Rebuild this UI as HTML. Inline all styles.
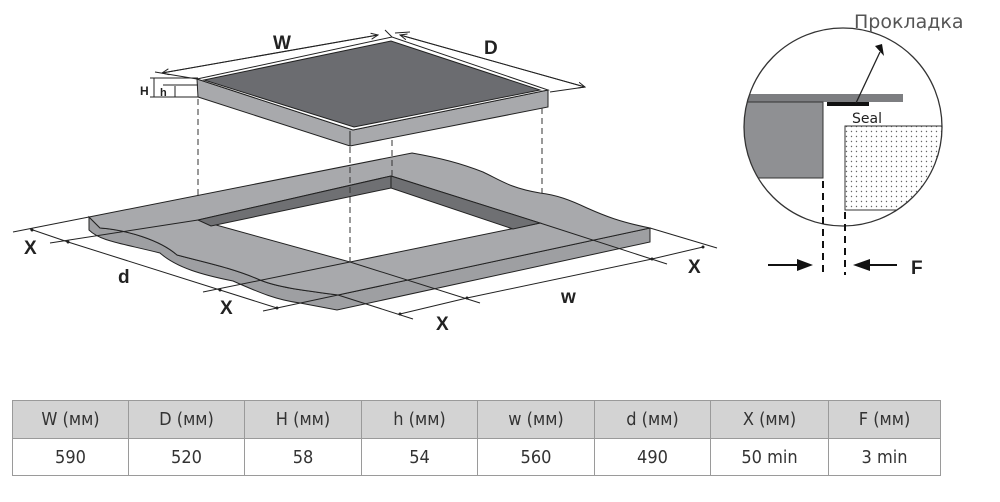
<!DOCTYPE html>
<html><head><meta charset="utf-8"><style>
html,body{margin:0;padding:0;background:#fff;}
body{width:1000px;height:502px;position:relative;overflow:hidden;font-family:"Liberation Sans","DejaVu Sans",sans-serif;}
svg{position:absolute;left:0;top:0;}
table{position:absolute;left:12px;top:400px;border-collapse:collapse;width:929px;}
td{border:1px solid #9a9a9a;text-align:center;font-size:18px;color:#333;height:36px;padding:0;font-family:"DejaVu Sans Condensed","Liberation Sans Narrow","Liberation Sans",sans-serif;}
tr.h td{background:#d3d3d3;height:37px;}
</style></head><body>
<svg width="1000" height="502" viewBox="0 0 1000 502">
<defs>
<pattern id="dots" width="5" height="5" patternUnits="userSpaceOnUse"><circle cx="1.5" cy="1.5" r="0.7" fill="#666"/></pattern>
<marker id="ah" markerWidth="8" markerHeight="8" refX="7" refY="4" orient="auto"><path d="M0,1 L7,4 L0,7" fill="none" stroke="#222" stroke-width="1"/></marker>
<clipPath id="cc"><circle cx="843" cy="127" r="99"/></clipPath>
</defs>
<g stroke="#222" stroke-width="1" fill="none">
<path d="M89,217 L89,230 C100,241 120,243 160,253 C177,268 203,275 233,281 C260,293 277,300 300,303 L337,310 L650,242 L650,228 L338,295 C300,290 277,287 260,280 C233,268 203,262 177,255 C160,240 127,230 100,228 Z" fill="#9e9fa2"/>
<path d="M89,217 L412,153 C440,158 460,163 483,172 C500,180 510,188 540,193 C557,195 570,200 587,208 C605,216 620,222 650,228 L338,295 C300,290 277,287 260,280 C233,268 203,262 177,255 C160,240 127,230 100,228 Z" fill="#a8a9ac"/>
<path d="M391,176 L540,223 L350,262 L198,220 Z" fill="#fff"/>
<path d="M391,176 L540,223 L513,229 L391,188 L211,226 L198,220 Z" fill="#6f7073"/>
<path d="M391,176 L391,188"/>
<path d="M13,232 L89,217"/>
<path d="M50,243 L198,220"/>
<path d="M203,292 L350,262"/>
<path d="M263,311 L338,295"/>
<path d="M350,262 L480,303"/>
<path d="M338,295 L413,319"/>
<path d="M650,228 L717,248"/>
<path d="M540,223 L667,264"/>
<path d="M30,229 L68,242 L220,290 L277,308"/>
<path d="M703,247 L652,259 L467,298 L400,314"/>
<g fill="#222" stroke="none"><circle cx="32" cy="230" r="1.5"/><circle cx="68" cy="242" r="1.5"/><circle cx="220" cy="290" r="1.5"/><circle cx="277" cy="308" r="1.5"/><circle cx="703" cy="247" r="1.5"/><circle cx="652" cy="259" r="1.5"/><circle cx="467" cy="298" r="1.5"/><circle cx="400" cy="314" r="1.5"/></g>
<path d="M197,79 L353,130 L548,90 L548,107 L350,146 L198,97 Z" fill="#a8a9ac"/>
<path d="M350,131 L350,146"/>
<path d="M197,79 L392,37 L548,90 L353,130 Z" fill="#fff"/>
<path d="M204,80 L391,41 L540,90 L354,127 Z" fill="#6b6c70"/>
<path d="M162,73 L378,35" marker-end="url(#ah)"/>
<path d="M378,35 L162,73" marker-end="url(#ah)"/>
<path d="M155,72 L197,79 M385,30 L392,37 M550,92 L585,87 M395,33 L410,32"/>
<path d="M400,35 L585,87" marker-end="url(#ah)"/>
<path d="M585,87 L400,35" marker-end="url(#ah)"/>
<path d="M150,78 L198,78 M150,97 L198,97 M154,78 L154,97 M163,85 L198,85 M175,86 L175,97"/>
<g stroke-dasharray="6,4" stroke="#333">
<path d="M198,99 L198,197"/><path d="M350,147 L350,262"/><path d="M392,140 L392,176"/><path d="M542,108 L542,193"/>
</g>
<g clip-path="url(#cc)">
<path d="M740,94 L903,94 L903,102 L740,102 Z" fill="#7d7e81" stroke="none"/>
<path d="M740,102 L823,102 L823,178 L740,178 Z" fill="#8f9093" stroke="#333"/>
<path d="M845,126 L950,126 L950,210 L845,210 Z" fill="url(#dots)" stroke="#333"/>
</g>
<circle cx="843" cy="127" r="99" stroke="#333" stroke-width="1.3"/>
<rect x="827" y="102" width="42" height="4" fill="#111" stroke="none"/>
<path d="M856,103 L880,52" stroke-width="1.3"/>
<path d="M875,46 L882,44 L884,56 Z" fill="#111" stroke="none"/>
<g stroke-dasharray="7,5" stroke-width="2" stroke="#111"><path d="M823,181 L823,275"/><path d="M845,212 L845,275"/></g>
<path d="M768,265 L800,265" stroke-width="2" stroke="#111"/>
<path d="M797,259 L813,265 L797,271 Z" fill="#111" stroke="none"/>
<path d="M868,265 L897,265" stroke-width="2" stroke="#111"/>
<path d="M870,259 L853,265 L870,271 Z" fill="#111" stroke="none"/>
</g>
<g font-family="Liberation Sans, sans-serif" font-weight="bold" fill="#222">
<text x="273" y="49" font-size="19">W</text>
<text x="484" y="54" font-size="19">D</text>
<text x="140" y="95" font-size="12">H</text>
<text x="160" y="96" font-size="11">h</text>
<text x="24" y="254" font-size="19">X</text>
<text x="118" y="283" font-size="19">d</text>
<text x="220" y="314" font-size="19">X</text>
<text x="436" y="330" font-size="19">X</text>
<text x="561" y="303" font-size="19">w</text>
<text x="688" y="273" font-size="19">X</text>
<text x="911" y="274" font-size="19">F</text>
</g>
<text x="854" y="28" font-size="19" fill="#555" font-family="DejaVu Sans, sans-serif">Прокладка</text>
<text x="852" y="123" font-size="14" fill="#222" font-family="DejaVu Sans, sans-serif">Seal</text>
</svg>
<table>
<tr class="h"><td style="width:115px">W (мм)</td><td style="width:115px">D (мм)</td><td style="width:116px">H (мм)</td><td style="width:115px">h (мм)</td><td style="width:116px">w (мм)</td><td style="width:115px">d (мм)</td><td style="width:117px">X (мм)</td><td>F (мм)</td></tr>
<tr><td>590</td><td>520</td><td>58</td><td>54</td><td>560</td><td>490</td><td>50 min</td><td>3 min</td></tr>
</table>
</body></html>
